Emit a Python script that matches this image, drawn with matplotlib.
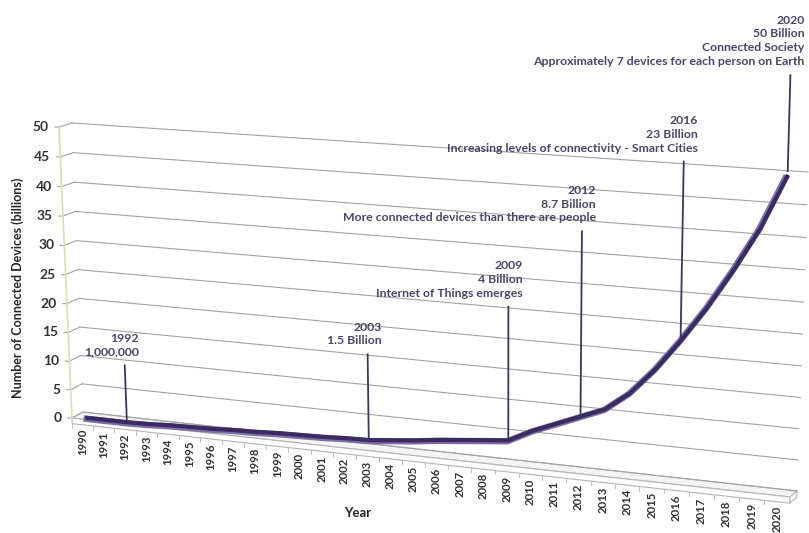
import numpy as np
import matplotlib
matplotlib.use("Agg")
import matplotlib.pyplot as plt
import matplotlib.transforms as mtransforms

# --- data ---------------------------------------------------------------
years = list(range(1990, 2021))
devices = [0, 0, 0.001, 0.1, 0.3, 0.4, 0.5, 0.7, 0.8, 1.0, 1.1, 1.2, 1.4,
           1.5, 1.9, 2.3, 2.8, 3.2, 3.6, 4.0, 6.0, 7.6, 9.2, 10.8, 13.8,
           18.0, 23.0, 28.5, 34.7, 41.5, 50.0]
y_ticks = [0, 5, 10, 15, 20, 25, 30, 35, 40, 45, 50]

note_years = [1992, 2003, 2009, 2012, 2016, 2020]
note_texts = [
    "1992\n1,000,000",
    "2003\n1.5 Billion",
    "2009\n4 Billion\nInternet of Things emerges",
    "2012\n8.7 Billion\nMore connected devices than there are people",
    "2016\n23 Billion\nIncreasing levels of connectivity - Smart Cities",
    "2020\n50 Billion\nConnected Society\nApproximately 7 devices for each person on Earth",
]
# height (billions) where each leader line starts
note_tops = [10, 16, 26, 39, 51, 65]

# --- fake Excel 3-D look: perspective of front plane and back wall ------
LEFT = years[0] - 0.5
RIGHT = years[-1] + 0.5
VMAX = 50

# pixel corners (top-down) of the plane at depth 0 (front) and depth 1 (back)
FRONT_CORNERS = [(72, 418), (59, 127), (790, 497), (799, 177)]
BACK_CORNERS = [(83, 412), (72, 123), (797, 491), (808, 172)]
UNIT = [(0, 0), (0, VMAX), (1, 0), (1, VMAX)]
LINE_DEPTH = 0.2


def homography(src, dst):
    A, b = [], []
    for (x, y), (u, v) in zip(src, dst):
        A.append([x, y, 1, 0, 0, 0, -u * x, -u * y])
        b.append(u)
        A.append([0, 0, 0, x, y, 1, -v * x, -v * y])
        b.append(v)
    h = np.linalg.solve(np.array(A, float), np.array(b, float))
    return np.append(h, 1).reshape(3, 3)


H_FRONT = homography(UNIT, FRONT_CORNERS)
H_BACK = homography(UNIT, BACK_CORNERS)


class Perspective(mtransforms.Transform):
    """(year, value) -> display pixels, at a given depth (0 front, 1 back)."""
    input_dims = output_dims = 2
    is_separable = False
    has_inverse = False

    def __init__(self, z, fig):
        super().__init__()
        self.z = z
        self.fig = fig

    def transform_non_affine(self, values):
        values = np.asarray(values, float)
        s = (values[:, 0] - LEFT) / (RIGHT - LEFT)
        q = np.column_stack([s, values[:, 1], np.ones(len(s))])
        pts = []
        for H in (H_FRONT, H_BACK):
            r = q @ H.T
            pts.append(r[:, :2] / r[:, 2:3])
        p = pts[0] + self.z * (pts[1] - pts[0])
        return np.column_stack([p[:, 0], self.fig.bbox.height - p[:, 1]])


def shift(trans, dx, dy):
    return trans + mtransforms.Affine2D().translate(dx, dy)


fig = plt.figure(figsize=(8.09, 5.33), dpi=100)
ax = fig.add_axes([0, 0, 1, 1])
ax.set_axis_off()

front = Perspective(0.0, fig)
back = Perspective(1.0, fig)
on_line = Perspective(LINE_DEPTH, fig)
ident = mtransforms.IdentityTransform()

FONT = "Lato"
grid_color = "#a3a3a3"
note_color = "#4b4668"

# gridlines on left side wall and back wall
for v in y_ticks:
    a = front.transform([(LEFT, v)])[0]
    b = back.transform([(LEFT, v)])[0]
    ax.plot([a[0] - 4, a[0], b[0]], [a[1], a[1], b[1]], color=grid_color,
            lw=0.8, transform=ident, clip_on=False)
    ax.plot([LEFT, RIGHT], [v, v], color=grid_color, lw=0.8,
            transform=back, clip_on=False)
    ax.text(LEFT, v, str(v), transform=shift(front, -10, 0), ha="right",
            va="center", fontsize=10, fontweight="bold", color="#333333",
            family=FONT)

# vertical axis line
ax.plot([LEFT, LEFT], [0, VMAX], color="#dedcb8", lw=1.2, transform=front,
        clip_on=False)

# floor slab
top = np.vstack([front.transform([(LEFT, 0), (RIGHT, 0)]),
                 back.transform([(RIGHT, 0), (LEFT, 0)])])
ax.fill(top[:, 0], top[:, 1], facecolor="#f4f4f4", edgecolor="#b5b5b5",
        lw=0.8, transform=ident, clip_on=False)
face = front.transform([(LEFT, 0), (RIGHT, 0), (RIGHT, -1), (LEFT, -1)])
ax.fill(face[:, 0], face[:, 1], facecolor="white", edgecolor="#b5b5b5",
        lw=0.8, transform=ident, clip_on=False)
side = np.vstack([front.transform([(RIGHT, 0), (RIGHT, -1)]),
                  back.transform([(RIGHT, -1), (RIGHT, 0)])])
ax.fill(side[:, 0], side[:, 1], facecolor="white", edgecolor="#b5b5b5",
        lw=0.8, transform=ident, clip_on=False)

# category ticks and labels
for yr in years:
    p = front.transform([(yr - 0.5, -1)])[0]
    ax.plot([p[0], p[0]], [p[1], p[1] - 4], color="#b5b5b5", lw=0.6,
            transform=ident, clip_on=False)
    ax.text(yr, -1, str(yr), transform=shift(front, 0, -4), rotation=90,
            ha="center", va="top", fontsize=8.2, fontweight="bold",
            color="#333333", family=FONT)

# the series, drawn as a thick ribbon
ax.plot(years, devices, color="#7b6fa6", lw=4.6,
        transform=Perspective(LINE_DEPTH - 0.1, fig),
        solid_capstyle="butt", clip_on=False)
ax.plot(years, devices, color="#3a2c63", lw=3.0,
        transform=Perspective(LINE_DEPTH + 0.05, fig),
        solid_capstyle="butt", clip_on=False)

# leaders and notes
for yr, txt, vtop in zip(note_years, note_texts, note_tops):
    v_line = devices[years.index(yr)]
    ax.plot([yr, yr], [v_line + 0.6, vtop], color="#3d3758", lw=1.3,
            transform=on_line, clip_on=False)
    ax.text(yr, vtop, txt, transform=shift(on_line, 14, 8), ha="right",
            va="bottom", multialignment="right", linespacing=1.32,
            fontsize=8.8, fontweight="bold", color=note_color, family=FONT)

# axis titles
ax.text(LEFT, 0, "Number of Connected Devices (billions)",
        transform=shift(front, -54, 20), rotation=90, ha="center",
        va="bottom", fontsize=9, fontweight="bold", color="#262626",
        family=FONT)
ax.text(2002.6, -1, "Year", transform=shift(front, 0, -58), ha="center",
        va="center", fontsize=9.5, fontweight="bold", color="#262626",
        family=FONT)

fig.savefig("out.png", dpi=100)
